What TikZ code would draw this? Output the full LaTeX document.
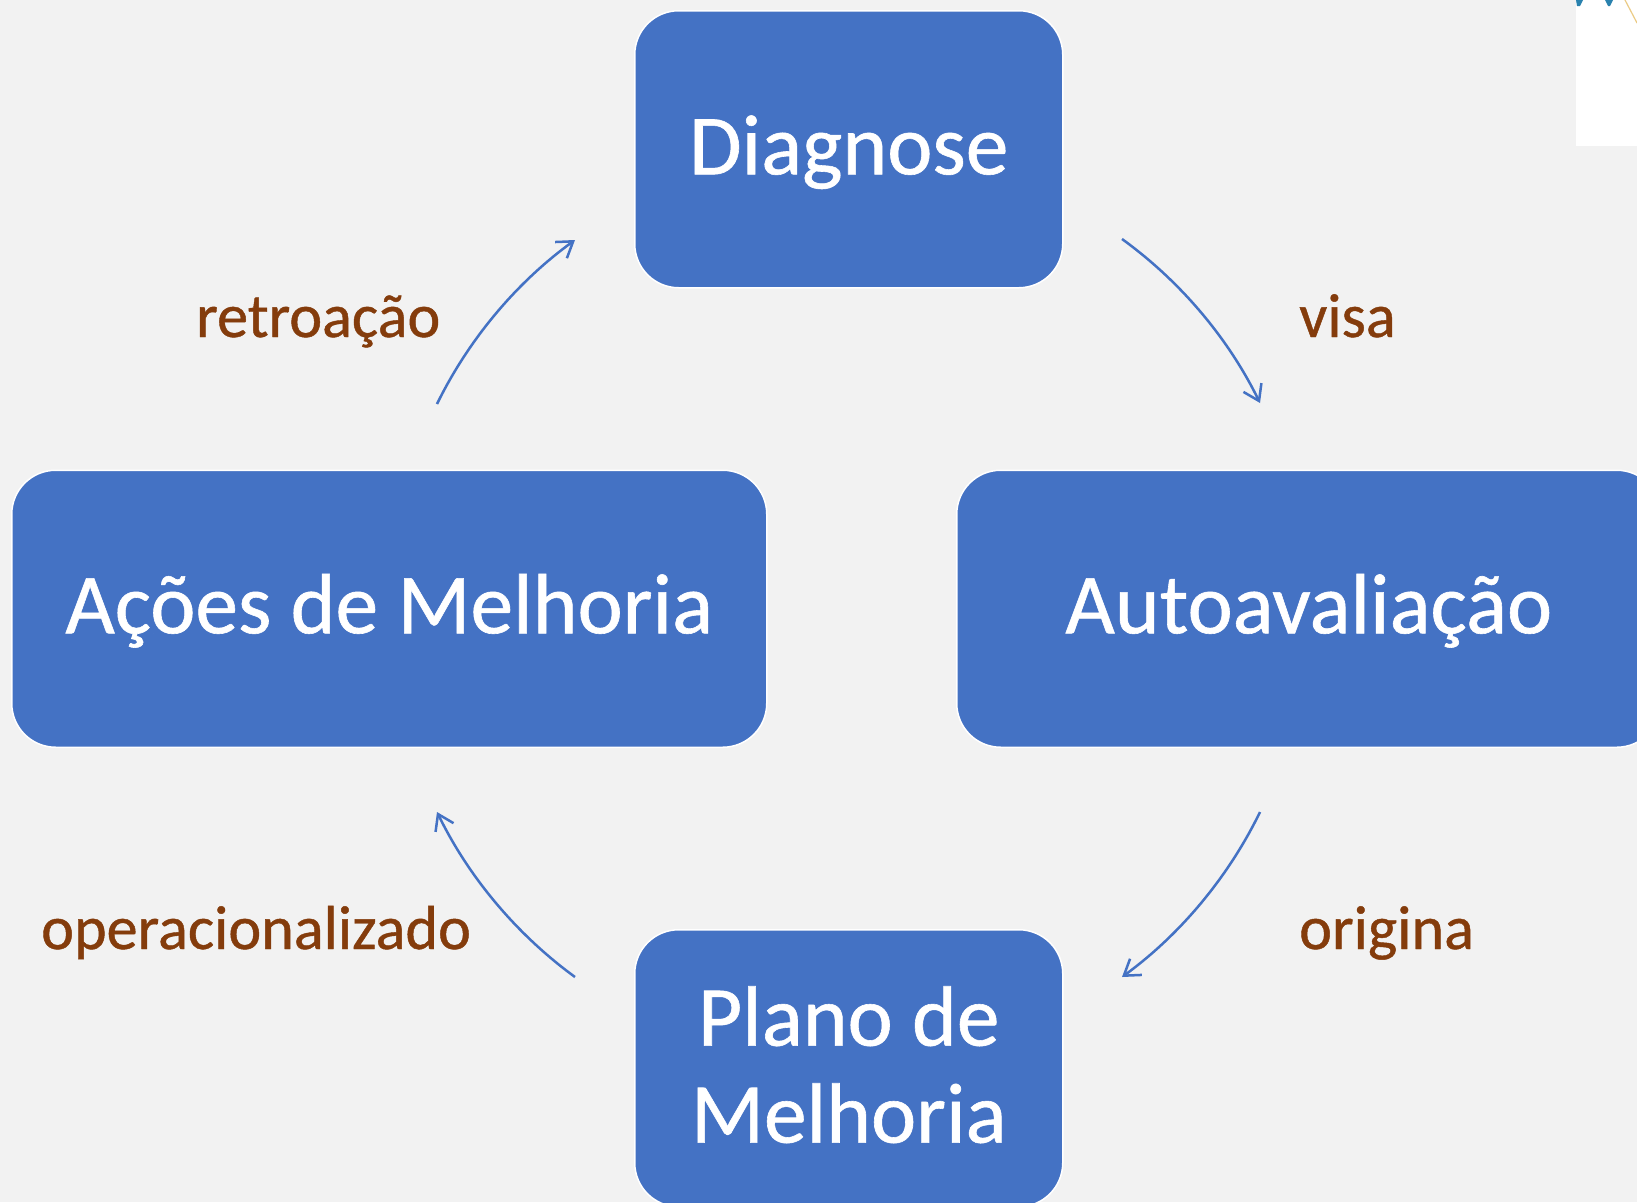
\documentclass[tikz,border=0pt]{standalone}
\usepackage{fontspec}
\setmainfont{Carlito}
\usetikzlibrary{arrows.meta}
\definecolor{bg}{HTML}{F2F2F2}
\definecolor{boxblue}{HTML}{4472C4}
\definecolor{labelbrown}{HTML}{843C0C}
\definecolor{markblue}{HTML}{2A82AE}
\definecolor{markyellow}{HTML}{EBCB85}
\newcommand{\shifted}[2]{\raisebox{#1}[\height][\depth]{#2}}
\tikzset{
  stage/.style={draw=white,line width=1.5pt,fill=boxblue,rounded corners=44pt,text=white,
    font=\fontsize{85.5}{97}\selectfont\addfontfeature{FakeBold=0.7},align=center,inner sep=0pt,anchor=north west},
  rel/.style={text=labelbrown,font=\fontsize{62.2}{66}\selectfont\addfontfeature{FakeBold=0.7},inner sep=0pt,anchor=base west},
  link/.style={draw=boxblue,line width=2.5pt,bend left=14,looseness=0.86,-{Straight Barb[length=15pt,width=20pt,line width=2.5pt]}}
}
\begin{document}
\begin{tikzpicture}[x=1pt,y=-1pt]
\useasboundingbox (0,0) rectangle (1637,1202);
\clip (0,0) rectangle (1637,1202);
\fill[bg] (0,0) rectangle (1637,1202);
\fill[white] (1576,0) rectangle (1637,146);
\fill[markblue] (1576,0) -- (1583,0) -- (1580,6) -- (1577,6) -- cycle;
\fill[markblue] (1605,0) -- (1613,0) -- (1610,6) -- (1608,6) -- cycle;
\draw[markyellow,line width=1.2pt] (1625,0) -- (1637,23);

\node[stage,minimum width=428pt,minimum height=277pt] (diag) at (634,10) {\shifted{-3pt}{Diagnose}};
\node[stage,minimum width=704pt,minimum height=277pt] (auto) at (956,469.5) {\shifted{-2pt}{Autoavaliação}};
\node[stage,minimum width=428pt,minimum height=277pt] (plano) at (634,929) {\shifted{3.5pt}{Plano de}\\\shifted{3.5pt}{Melhoria}};
\node[stage,minimum width=755pt,minimum height=277pt] (acoes) at (11,469.5) {\shifted{-2pt}{Ações de Melhoria}};

\coordinate (a1) at (1122,239); \coordinate (a2) at (1260,403);
\coordinate (b1) at (1260,812); \coordinate (b2) at (1122,977);
\coordinate (c1) at (575,977);  \coordinate (c2) at (437,812);
\coordinate (d1) at (437,404);  \coordinate (d2) at (575,240);
\draw[link] (a1) to (a2);
\draw[link] (b1) to (b2);
\draw[link] (c1) to (c2);
\draw[link] (d1) to (d2);

\node[rel] (visa) at (1299,337) {visa};
\node[rel] (orig) at (1299,949) {origina};
\node[rel] (retro) at (196,337) {retroação};
\node[rel] (oper) at (41,949) {operacionalizado};
\end{tikzpicture}
\end{document}
